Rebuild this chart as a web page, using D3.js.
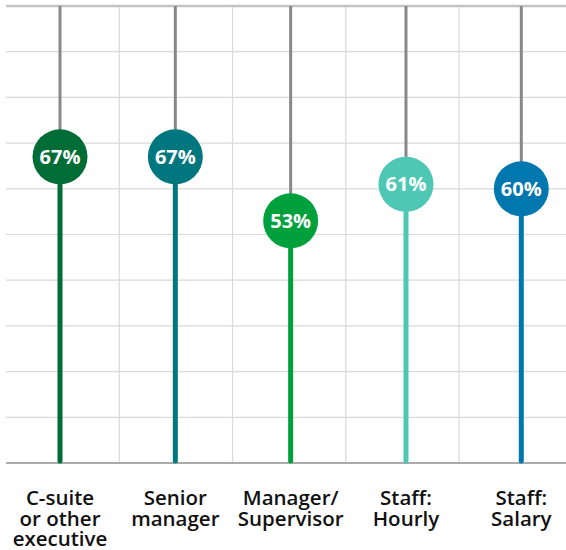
<!DOCTYPE html>
<html>
<head>
<meta charset="utf-8">
<script src="https://cdn.jsdelivr.net/npm/d3@7"></script>
<style>
  body { margin: 0; background: #fff; }
  svg { display: block; }
</style>
</head>
<body>
<div id="chart"></div>
<script>
// chart data
var categories = ["C-suite|or other|executive", "Senior|manager", "Manager/|Supervisor", "Staff:|Hourly", "Staff:|Salary"];
var values = [67, 67, 53, 61, 60];
var colors = ["#006d36", "#00777f", "#00a13c", "#4ec7b4", "#0077ae"];
var yTicks = [0, 10, 20, 30, 40, 50, 60, 70, 80, 90, 100];
var xGridTicks = [1, 2, 3, 4];

var width = 566, height = 550;
var plotTop = 6, plotBottom = 463, plotLeft = 6;

var svg = d3.select("#chart")
  .append("svg")
    .attr("width", width)
    .attr("height", height);

// Scales
var y = d3.scaleLinear()
  .domain([0, 100])
  .range([plotBottom, plotTop]);

var x = d3.scalePoint()
  .domain(d3.range(categories.length))
  .range([60, 521.3]);

var xGrid = d3.scaleLinear()
  .domain([0, 5])
  .range([plotLeft, 572.3]);

// Grid lines
svg.append("g")
  .selectAll("line")
  .data(yTicks.filter(function(d) { return d > 0 && d < 100; }))
  .enter()
  .append("line")
    .attr("x1", plotLeft).attr("x2", width)
    .attr("y1", function(d) { return y(d); })
    .attr("y2", function(d) { return y(d); })
    .attr("stroke", "#dadada")
    .attr("stroke-width", 1.2);

svg.append("g")
  .selectAll("line")
  .data(xGridTicks)
  .enter()
  .append("line")
    .attr("x1", function(d) { return xGrid(d); })
    .attr("x2", function(d) { return xGrid(d); })
    .attr("y1", plotTop).attr("y2", plotBottom)
    .attr("stroke", "#dadada")
    .attr("stroke-width", 1.2);

// Top and base lines
svg.append("line")
  .attr("x1", plotLeft).attr("x2", width)
  .attr("y1", y(100)).attr("y2", y(100))
  .attr("stroke", "#c4c4c4")
  .attr("stroke-width", 2.5);

svg.append("line")
  .attr("x1", plotLeft).attr("x2", width)
  .attr("y1", y(0)).attr("y2", y(0))
  .attr("stroke", "#ababab")
  .attr("stroke-width", 2);

var lolly = svg.append("g")
  .selectAll("g")
  .data(values)
  .enter()
  .append("g");

// gray stem above the dot
lolly.append("line")
  .attr("x1", function(d, i) { return x(i); })
  .attr("x2", function(d, i) { return x(i); })
  .attr("y1", y(100))
  .attr("y2", function(d) { return y(d); })
  .attr("stroke", "#888")
  .attr("stroke-width", 3);

// colored stem below the dot
lolly.append("line")
  .attr("x1", function(d, i) { return x(i); })
  .attr("x2", function(d, i) { return x(i); })
  .attr("y1", function(d) { return y(d); })
  .attr("y2", y(0) - 2)
  .attr("stroke", function(d, i) { return colors[i]; })
  .attr("stroke-width", 5)
  .attr("stroke-linecap", "round");

lolly.append("circle")
  .attr("cx", function(d, i) { return x(i); })
  .attr("cy", function(d) { return y(d); })
  .attr("r", 27.5)
  .attr("fill", function(d, i) { return colors[i]; });

lolly.append("text")
  .attr("x", function(d, i) { return x(i); })
  .attr("y", function(d) { return y(d); })
  .attr("dy", "0.36em")
  .attr("text-anchor", "middle")
  .style("font-family", "'Open Sans', sans-serif")
  .style("font-weight", 700)
  .style("font-size", "20px")
  .attr("fill", "#fff")
  .text(function(d) { return d + "%"; });

// Category labels
var labels = svg.append("g")
  .selectAll("text")
  .data(categories)
  .enter()
  .append("text")
    .attr("x", function(d, i) { return x(i); })
    .attr("y", 505)
    .attr("text-anchor", "middle")
    .style("font-family", "'Open Sans', sans-serif")
    .style("font-weight", 600)
    .style("font-size", "20.5px")
    .attr("fill", "#111");

labels.selectAll("tspan")
  .data(function(d, i) { return d.split("|").map(function(t) { return {t: t, i: i}; }); })
  .enter()
  .append("tspan")
    .attr("x", function(d) { return x(d.i); })
    .attr("dy", function(d, j) { return j === 0 ? 0 : 20.5; })
    .text(function(d) { return d.t; });
</script>
</body>
</html>
